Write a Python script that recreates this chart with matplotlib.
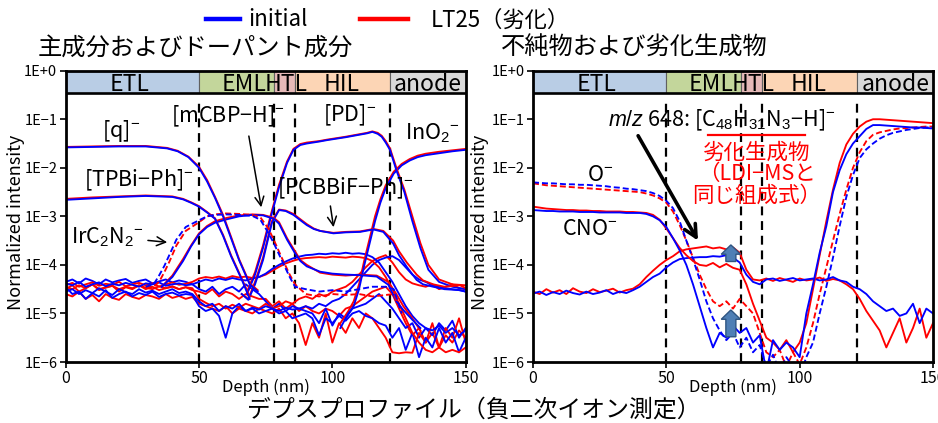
import numpy as np
import matplotlib
matplotlib.use('Agg')
import matplotlib.pyplot as plt
from matplotlib.patches import Rectangle, FancyArrow
from matplotlib.lines import Line2D

plt.rcParams['font.family'] = ['Noto Sans CJK JP', 'DejaVu Sans']
plt.rcParams['mathtext.fontset'] = 'custom'
plt.rcParams['mathtext.rm'] = 'Liberation Sans'
plt.rcParams['mathtext.it'] = 'Liberation Sans:italic'
plt.rcParams['axes.unicode_minus'] = True

# ---------------- data (log10 of normalized intensity) ----------------
layer_names = ['ETL', 'EML', 'HTL', 'HIL', 'anode']
layer_edges = [0, 50, 78, 86, 121.5, 150]
layer_colors = ['#b9cde5', '#c3d69b', '#e6b9b8', '#fcd5b5', '#d9d9d9']
layer_label_x = [24, 66.8, 82.6, 103.5, 135.8]
ytick_vals = [1e-6, 1e-5, 1e-4, 1e-3, 1e-2, 1e-1, 1e0]
ytick_labels = ['1E−6', '1E−5', '1E−4', '1E−3', '1E−2', '1E−1', '1E+0']
xtick_vals = [0, 50, 100, 150]

depth_grid = np.arange(0, 150.01, 2.5)   # 61 depths (nm)

# ---- left panel: main components & dopant ----
q_x = [0, 10, 20, 30, 38, 42, 46, 50, 53, 56, 59, 62, 65, 69, 72]
q_init = [-1.58, -1.57, -1.56, -1.56, -1.60, -1.66, -1.78, -2.00, -2.28, -2.62, -3.00, -3.45, -3.90, -4.40, -4.55]
q_lt25 = [-1.57, -1.56, -1.55, -1.55, -1.59, -1.65, -1.77, -1.98, -2.25, -2.60, -2.97, -3.42, -3.88, -4.38, -4.52]

tpbi_x = [0, 10, 20, 30, 40, 44, 47, 50, 53, 56, 59, 62, 66, 69]
tpbi_init = [-2.66, -2.63, -2.60, -2.58, -2.60, -2.65, -2.72, -2.80, -2.92, -3.05, -3.40, -3.82, -4.30, -4.70]
tpbi_lt25 = [-2.64, -2.61, -2.59, -2.57, -2.59, -2.64, -2.71, -2.79, -2.91, -3.04, -3.38, -3.80, -4.28, -4.65]

ir_x = [30, 33, 35, 37, 39, 41.5, 45, 50, 53, 56, 60, 65, 70, 73, 76, 78, 81, 84, 86, 90, 95, 100, 105, 110, 115, 120, 123, 126]
ir_init = [-4.45, -4.40, -4.22, -4.02, -3.78, -3.48, -3.22, -3.08, -3.00, -2.97, -2.96, -2.97, -2.99, -3.07, -3.34, -3.55, -3.90, -4.25, -4.45, -4.50, -4.55, -4.52, -4.55, -4.50, -4.45, -4.45, -4.50, -5.00]
ir_lt25 = [-4.45, -4.45, -4.35, -4.15, -3.92, -3.60, -3.30, -3.12, -3.00, -2.96, -2.94, -2.95, -2.97, -3.02, -3.25, -3.48, -3.85, -4.20, -4.40, -4.60, -4.65, -4.60, -4.62, -4.60, -4.65, -4.62, -4.60, -5.00]

mcbp_x = [36, 40, 44, 47, 50, 53, 56, 60.5, 65, 70, 74, 78, 80, 83, 86, 88, 90.4, 95.4, 100, 105, 110, 116.6, 121, 124, 126.6, 130, 133]
mcbp_init = [-4.45, -4.25, -3.92, -3.62, -3.37, -3.22, -3.13, -3.06, -3.00, -2.97, -2.98, -3.05, -3.15, -3.48, -3.76, -3.92, -4.03, -4.14, -4.18, -4.20, -4.21, -4.24, -4.41, -4.75, -4.93, -5.13, -5.30]
mcbp_lt25 = [-4.45, -4.22, -3.88, -3.60, -3.35, -3.20, -3.10, -3.03, -2.98, -2.96, -2.97, -3.03, -3.12, -3.45, -3.72, -3.90, -4.00, -4.16, -4.20, -4.22, -4.20, -4.22, -4.35, -4.60, -4.85, -5.10, -5.35]

pcb_x = [66, 68.5, 71, 74, 77.3, 80, 82.5, 85.4, 88, 90.4, 93, 95.4, 100.4, 105, 110.4, 115.4, 119.1, 122.8, 125, 127.9, 131.6, 134, 137.8, 142, 147.9, 150]
pcb_init = [-4.60, -4.72, -4.40, -3.90, -3.14, -2.87, -2.89, -2.97, -3.08, -3.18, -3.26, -3.30, -3.35, -3.33, -3.32, -3.27, -3.32, -3.56, -3.80, -4.04, -4.31, -4.40, -4.45, -4.50, -4.52, -4.55]
pcb_lt25 = [-4.60, -4.70, -4.35, -3.85, -3.10, -2.86, -2.88, -2.95, -3.06, -3.16, -3.25, -3.30, -3.34, -3.32, -3.31, -3.26, -3.30, -3.50, -3.72, -3.95, -4.20, -4.32, -4.40, -4.45, -4.42, -4.48]

pd_x = [68, 71, 74, 77, 80, 83, 85.4, 88, 90.4, 95, 98, 105, 110, 113, 115, 117, 118.5, 120, 121.6, 124, 127, 130, 133, 136, 140, 145, 150]
pd_init = [-4.60, -4.20, -3.65, -3.00, -2.40, -1.90, -1.63, -1.53, -1.50, -1.46, -1.43, -1.37, -1.32, -1.29, -1.26, -1.30, -1.36, -1.48, -1.63, -2.05, -2.50, -3.10, -3.65, -4.10, -4.35, -4.45, -4.50]
pd_lt25 = [-4.55, -4.15, -3.60, -2.95, -2.35, -1.87, -1.61, -1.51, -1.48, -1.45, -1.42, -1.36, -1.31, -1.28, -1.25, -1.28, -1.34, -1.45, -1.60, -2.00, -2.45, -3.00, -3.55, -4.00, -4.30, -4.40, -4.42]

ino2_x = [103, 106, 108, 110, 112, 114, 116, 118, 120, 123, 126, 129, 132, 135, 140, 145, 150]
ino2_init = [-5.30, -5.00, -4.85, -4.50, -4.00, -3.55, -3.10, -2.72, -2.42, -2.12, -1.95, -1.85, -1.78, -1.74, -1.70, -1.66, -1.63]
ino2_lt25 = [-5.20, -4.95, -4.75, -4.40, -3.90, -3.45, -3.00, -2.65, -2.36, -2.08, -1.92, -1.82, -1.75, -1.71, -1.67, -1.64, -1.61]

# other (noisy) ions, on depth_grid
ion1_init = [-4.38, -4.42, -4.35, -4.45, -4.40, -4.36, -4.44, -4.39, -4.42, -4.37, -4.41, -4.45, -4.38, -4.40, -4.36, -4.43, -4.40, -4.38, -4.42, -4.40,
             -4.35, -4.30, -4.33, -4.28, -4.31, -4.27, -4.30, -4.32, -4.28, -4.25,
             -4.18, -4.08, -4.00, -3.93, -3.87, -3.83,
             -3.80, -3.79, -3.77, -3.78, -3.76, -3.77, -3.75, -3.77, -3.76, -3.78,
             -3.84, -3.95, -4.15, -4.35, -4.60, -4.85, -5.05, -5.20, -5.30, -5.35, -5.25, -5.40, -5.30, -5.45, -5.35]
ion1_lt25 = [-4.42, -4.37, -4.45, -4.40, -4.36, -4.43, -4.39, -4.41, -4.35, -4.44, -4.40, -4.37, -4.42, -4.38, -4.45, -4.40, -4.36, -4.41, -4.39, -4.35,
             -4.28, -4.25, -4.27, -4.24, -4.28, -4.23, -4.26, -4.24, -4.27, -4.25,
             -4.20, -4.12, -4.04, -3.97, -3.92, -3.88,
             -3.86, -3.85, -3.84, -3.85, -3.83, -3.84, -3.85, -3.83, -3.84, -3.86,
             -3.92, -4.05, -4.25, -4.50, -4.80, -5.10, -5.40, -5.60, -5.75, -5.80, -5.70, -5.80, -5.75, -5.80, -5.70]
ion2_init = [-4.55, -4.50, -4.60, -4.52, -4.58, -4.48, -4.55, -4.62, -4.50, -4.56, -4.60, -4.50, -4.57, -4.53, -4.60, -4.55, -4.50, -4.58, -4.55, -4.60,
             -4.75, -4.85, -4.80, -4.95, -4.85, -4.90, -4.80, -4.95, -4.88, -4.92,
             -4.85, -4.90, -4.95, -4.88, -4.92, -4.90,
             -4.85, -4.90, -4.80, -4.85, -4.75, -4.70, -4.60, -4.45, -4.30, -4.15,
             -4.00, -3.90, -3.85, -3.82, -3.90, -4.05, -4.20, -4.30, -4.35, -4.42, -4.45, -4.48, -4.50, -4.52, -4.55]
ion2_lt25 = [-4.45, -4.50, -4.42, -4.48, -4.40, -4.50, -4.46, -4.43, -4.50, -4.45, -4.48, -4.42, -4.47, -4.50, -4.44, -4.48, -4.45, -4.50, -4.46, -4.48,
             -4.70, -4.78, -4.85, -4.80, -4.90, -4.82, -4.88, -4.80, -4.85, -4.90,
             -4.80, -4.90, -4.85, -4.75, -4.80, -4.70,
             -4.65, -4.70, -4.60, -4.65, -4.55, -4.50, -4.45, -4.35, -4.20, -4.05,
             -3.92, -3.85, -3.80, -3.95, -4.15, -4.30, -4.38, -4.42, -4.45, -4.40, -4.50, -4.45, -4.40, -4.48, -4.50]
ion3_init = [-4.45, -4.60, -4.55, -4.70, -4.58, -4.65, -4.52, -4.68, -4.60, -4.55, -4.65, -4.58, -4.62, -4.55, -4.66, -4.60, -4.57, -4.63, -4.60, -4.62,
             -4.85, -4.95, -4.90, -5.05, -5.50, -5.00, -4.85, -4.95, -4.90, -5.00,
             -4.95, -4.90, -5.00, -4.95, -5.10, -5.05,
             -5.00, -5.10, -5.45, -5.10, -5.20, -5.05, -5.15, -5.00, -4.95, -5.05,
             -5.10, -5.20, -5.25, -5.50, -5.30, -5.75, -5.40, -5.90, -5.50, -5.70, -5.30, -5.60, -5.40, -5.80, -5.50]
ion3_lt25 = [-4.60, -4.65, -4.55, -4.70, -4.62, -4.75, -4.60, -4.68, -4.72, -4.60, -4.66, -4.70, -4.62, -4.65, -4.70, -4.60, -4.68, -4.64, -4.70, -4.66,
             -4.80, -4.85, -4.90, -4.95, -4.85, -5.00, -4.90, -4.95, -5.00, -4.90,
             -4.95, -5.00, -4.90, -5.10, -5.00, -5.20,
             -5.65, -5.20, -5.50, -5.00, -5.60, -5.20, -5.40, -5.10, -5.30, -5.00,
             -5.10, -5.30, -5.50, -5.80, -5.82, -5.80, -5.81, -5.40, -5.60, -5.20, -5.70, -5.30, -5.50, -5.10, -5.60]
ion4_init = [-4.35, -4.30, -4.38, -4.28, -4.33, -4.40, -4.30, -4.36, -4.32, -4.29, -4.37, -4.33, -4.30, -4.38, -4.34, -4.30, -4.36, -4.32, -4.35, -4.40,
             -4.50, -4.55, -4.45, -4.60, -4.50, -4.45, -4.55, -4.40, -4.50, -4.60,
             -4.75, -4.90, -4.80, -4.95, -4.85, -4.90,
             -4.95, -5.00, -5.20, -4.90, -5.25, -5.00, -5.10, -4.90, -4.85, -4.80,
             -4.70, -4.60, -4.75, -4.90, -5.10, -5.30, -5.20, -5.50, -5.30, -5.45, -5.20, -5.35, -5.15, -5.50, -5.30]
ion4_lt25 = [-4.50, -4.42, -4.55, -4.48, -4.40, -4.52, -4.47, -4.43, -4.55, -4.46, -4.50, -4.42, -4.50, -4.45, -4.52, -4.48, -4.44, -4.50, -4.46, -4.52,
             -4.55, -4.60, -4.50, -4.65, -4.55, -4.60, -4.70, -4.60, -4.65, -4.70,
             -4.70, -4.85, -4.75, -4.90, -4.80, -4.95,
             -4.85, -4.95, -5.00, -4.90, -4.95, -5.05, -4.90, -4.85, -4.75, -4.65,
             -4.55, -4.50, -4.45, -4.60, -4.90, -5.20, -5.45, -5.30, -5.60, -5.40, -5.70, -5.45, -5.60, -5.35, -5.50]

# ---- right panel: impurities & degradation products (depth_grid) ----
o_init = [-2.30, -2.31, -2.32, -2.32, -2.33, -2.34, -2.34, -2.35, -2.35, -2.36, -2.37, -2.38, -2.40, -2.41, -2.43, -2.44, -2.46, -2.48, -2.52, -2.58,
          -2.68, -2.83, -3.10, -3.50, -3.88, -4.30, -4.75, -5.10, -5.35, -5.55,
          -5.40, -5.70, -5.50, -5.80, -5.65, -6.10, -5.85, -6.20, -5.90, -6.10,
          -6.30, -5.90, -5.60, -5.00, -4.45, -3.85, -3.20, -2.60, -2.15, -1.80,
          -1.62, -1.50, -1.40, -1.33, -1.28, -1.25, -1.22, -1.20, -1.18, -1.17, -1.16]
o_lt25 = [-2.32, -2.34, -2.36, -2.37, -2.38, -2.39, -2.40, -2.41, -2.42, -2.43, -2.44, -2.45, -2.46, -2.47, -2.48, -2.49, -2.50, -2.53, -2.57, -2.63,
          -2.72, -2.90, -3.18, -3.50, -3.85, -4.20, -4.50, -4.75, -4.85, -4.75,
          -4.90, -4.70, -4.85, -5.00, -5.40, -5.80, -5.90, -5.75, -6.10, -5.80,
          -6.05, -5.70, -5.20, -4.60, -4.05, -3.50, -2.95, -2.45, -2.00, -1.68,
          -1.45, -1.32, -1.27, -1.24, -1.21, -1.19, -1.18, -1.17, -1.16, -1.15, -1.15]
cno_init = [-2.87, -2.88, -2.89, -2.89, -2.90, -2.90, -2.90, -2.91, -2.91, -2.91, -2.92, -2.92, -2.92, -2.92, -2.93, -2.93, -2.93, -2.95, -3.00, -3.08,
            -3.22, -3.45, -3.70, -4.00, -4.40, -4.85, -5.30, -5.70, -5.40, -5.50,
            -5.25, -5.40, -5.30, -5.60, -5.45, -6.20, -5.55, -5.75, -5.60, -5.70,
            -5.90, -5.00, -4.40, -3.75, -3.20, -2.50, -2.05, -1.72, -1.50, -1.35,
            -1.20, -1.12, -1.12, -1.13, -1.14, -1.15, -1.16, -1.17, -1.17, -1.18, -1.19]
cno_lt25 = [-2.80, -2.82, -2.84, -2.85, -2.86, -2.87, -2.87, -2.88, -2.88, -2.89, -2.89, -2.90, -2.90, -2.90, -2.91, -2.91, -2.92, -2.93, -2.97, -3.07,
            -3.25, -3.45, -3.65, -3.80, -3.92, -4.00, -4.02, -3.96, -4.05, -3.98,
            -4.06, -4.10, -4.40, -4.80, -5.15, -5.50, -5.60, -5.75, -5.55, -5.80,
            -5.60, -5.20, -4.50, -3.80, -3.10, -2.45, -1.90, -1.52, -1.30, -1.15,
            -1.05, -1.00, -1.00, -1.01, -1.02, -1.03, -1.04, -1.05, -1.06, -1.07, -1.08]
mz648_init = [-4.59, -4.55, -4.62, -4.56, -4.60, -4.53, -4.58, -4.61, -4.55, -4.60, -4.57, -4.52, -4.60, -4.55, -4.58, -4.52, -4.45, -4.35, -4.25, -4.18,
              -4.05, -3.95, -3.88, -3.86, -3.85, -3.84, -3.84, -3.82, -3.83, -3.80,
              -3.85, -3.95, -4.20, -4.35, -4.40, -4.30, -4.28, -4.33, -4.30, -4.27,
              -4.32, -4.30, -4.28, -4.32, -4.30, -4.25, -4.32, -4.35, -4.45, -4.50,
              -4.60, -4.75, -4.85, -4.95, -4.90, -5.05, -5.00, -4.80, -5.20, -4.90, -5.00]
mz648_lt25 = [-4.55, -4.60, -4.50, -4.57, -4.52, -4.60, -4.48, -4.55, -4.58, -4.50, -4.56, -4.53, -4.49, -4.57, -4.52, -4.49, -4.40, -4.25, -4.12, -4.00,
              -3.90, -3.82, -3.72, -3.68, -3.66, -3.64, -3.62, -3.66, -3.64, -3.68,
              -3.64, -3.75, -4.10, -4.30, -4.32, -4.28, -4.33, -4.27, -4.31, -4.35,
              -4.28, -4.32, -4.30, -4.26, -4.33, -4.29, -4.32, -4.40, -4.50, -4.70,
              -4.95, -5.15, -5.35, -5.70, -5.40, -5.10, -5.60, -5.30, -4.90, -5.50, -5.20]

# ---------------- figure ----------------
BLUE = '#0000ff'
RED = '#ff0000'
fig = plt.figure(figsize=(9.38, 4.23), dpi=100)
ax_l = fig.add_axes([65.7 / 938, 1 - 362 / 423, 400 / 938, 291.3 / 423])
ax_r = fig.add_axes([533 / 938, 1 - 362 / 423, 400 / 938, 291.3 / 423])

band_bottom = 0.352


def setup(ax):
    ax.set_yscale('log')
    ax.set_xlim(0, 150)
    ax.set_ylim(1e-6, 1)
    for i in range(len(layer_names)):
        ax.add_patch(Rectangle((layer_edges[i], band_bottom), layer_edges[i + 1] - layer_edges[i],
                               1 - band_bottom, facecolor=layer_colors[i], edgecolor='#606060',
                               lw=0.8, zorder=1))
    for name, lx in zip(layer_names, layer_label_x):
        ax.text(lx, 10 ** -0.42, name, ha='center', va='baseline', fontsize=16.5, zorder=3)
    ax.axhline(band_bottom, color='black', lw=1.9, zorder=4)
    ax.vlines(layer_edges[1:-1], 1e-6, 0.27, colors='black', linestyles=(0, (4, 2.6)), lw=1.6, zorder=2)
    ax.set_yticks(ytick_vals)
    ax.set_yticklabels(ytick_labels)
    ax.yaxis.set_minor_locator(matplotlib.ticker.NullLocator())
    ax.set_xticks(xtick_vals)
    ax.tick_params(axis='y', direction='out', length=4, width=1.2, pad=2, labelsize=10.5)
    ax.tick_params(axis='x', direction='out', length=4, width=1.2, pad=2, labelsize=11.5)
    for s in ax.spines.values():
        s.set_linewidth(2.0)
        s.set_zorder(6)
    ax.set_xlabel('Depth (nm)', fontsize=12, labelpad=-6)


def curve(ax, x, logv, color, ls='-'):
    ax.plot(x, 10 ** np.asarray(logv), color=color, lw=1.35, ls=ls, zorder=3, clip_on=True)


setup(ax_l)
setup(ax_r)

DASH = (0, (3.2, 1.6))
# left panel: red first, blue over
for x, r, b in [(depth_grid, ion4_lt25, ion4_init), (depth_grid, ion3_lt25, ion3_init),
                (depth_grid, ion2_lt25, ion2_init), (depth_grid, ion1_lt25, ion1_init),
                (ino2_x, ino2_lt25, ino2_init), (pd_x, pd_lt25, pd_init),
                (pcb_x, pcb_lt25, pcb_init), (mcbp_x, mcbp_lt25, mcbp_init),
                (tpbi_x, tpbi_lt25, tpbi_init), (q_x, q_lt25, q_init)]:
    curve(ax_l, x, r, RED)
    curve(ax_l, x, b, BLUE)
curve(ax_l, ir_x, ir_lt25, RED, DASH)
curve(ax_l, ir_x, ir_init, BLUE, DASH)

# right panel
curve(ax_r, depth_grid, o_lt25, RED, DASH)
curve(ax_r, depth_grid, o_init, BLUE, DASH)
for r, b in [(mz648_lt25, mz648_init), (cno_lt25, cno_init)]:
    curve(ax_r, depth_grid, r, RED)
    curve(ax_r, depth_grid, b, BLUE)

# ---------------- annotations ----------------
fs = 15.5
ax_l.text(20.6, 10 ** -1.25, '[q]$^{-}$', ha='center', va='center', fontsize=fs)
ax_l.text(27.5, 10 ** -2.25, '[TPBi−Ph]$^{-}$', ha='center', va='center', fontsize=fs)
ax_l.text(60.9, 10 ** -0.95, '[mCBP−H]$^{-}$', ha='center', va='center', fontsize=fs)
ax_l.text(106.6, 10 ** -0.91, '[PD]$^{-}$', ha='center', va='center', fontsize=fs)
ax_l.text(137.4, 10 ** -1.29, 'InO$_2$$^{-}$', ha='center', va='center', fontsize=fs)
ax_l.text(105, 10 ** -2.42, '[PCBBiF−Ph]$^{-}$', ha='center', va='center', fontsize=fs)
ax_l.text(15.5, 10 ** -3.42, 'IrC$_2$N$_2$$^{-}$', ha='center', va='center', fontsize=fs)
arw = dict(arrowstyle='->', color='black', lw=1.1, mutation_scale=16)
ax_l.annotate('', xy=(73.5, 10 ** -2.87), xytext=(68.5, 10 ** -1.29), arrowprops=arw)
ax_l.annotate('', xy=(100.6, 10 ** -3.28), xytext=(99.1, 10 ** -2.73), arrowprops=arw)
ax_l.annotate('', xy=(39.1, 10 ** -3.54), xytext=(29.8, 10 ** -3.49), arrowprops=arw)

ax_r.text(25.2, 10 ** -2.15, 'O$^{-}$', ha='center', va='center', fontsize=fs)
ax_r.text(21.4, 10 ** -3.26, 'CNO$^{-}$', ha='center', va='center', fontsize=fs)
ax_r.text(71, 10 ** -1.03, '$m/z$ 648: [C$_{48}$H$_{31}$N$_3$−H]$^{-}$', ha='center', va='center', fontsize=fs)
ax_r.plot([65.7, 102], [10 ** -1.33, 10 ** -1.33], color=RED, lw=1.6, zorder=5)
ax_r.text(83.8, 10 ** -1.68, '劣化生成物', ha='center', va='center', fontsize=15.5, color=RED)
ax_r.text(83.8, 10 ** -2.13, '（LDI−MSと', ha='center', va='center', fontsize=15.5, color=RED)
ax_r.text(83.8, 10 ** -2.58, '同じ組成式）', ha='center', va='center', fontsize=15.5, color=RED)
ax_r.annotate('', xy=(62.4, 10 ** -3.55), xytext=(38.9, 10 ** -1.29),
              arrowprops=dict(arrowstyle='->', color='black', lw=2.6, mutation_scale=22), zorder=6)
for base, length in [((6 - 3.93) / 6, 0.057), ((6 - 5.48) / 6, 0.092)]:
    ax_r.add_patch(FancyArrow(74.2 / 150, base, 0, length, width=0.025, head_width=0.048,
                              head_length=0.032, length_includes_head=True, transform=ax_r.transAxes,
                              facecolor='#4f7fb5', edgecolor='#2f5582', lw=1.0, zorder=7))

# y labels
fig.text(16 / 938, 1 - 222 / 423, 'Normalized intensity', rotation=90, ha='center', va='center', fontsize=13)
fig.text(480 / 938, 1 - 222 / 423, 'Normalized intensity', rotation=90, ha='center', va='center', fontsize=13)

# titles
fig.text(38 / 938, 1 - 48 / 423, '主成分およびドーパント成分', ha='left', va='center', fontsize=17.5)
fig.text(501 / 938, 1 - 48 / 423, '不純物および劣化生成物', ha='left', va='center', fontsize=17.5)
fig.text(474 / 938, 1 - 410 / 423, 'デプスプロファイル（負二次イオン測定）', ha='center', va='center', fontsize=17.2)

# legend
fig.add_artist(Line2D([206 / 938, 240 / 938], [1 - 19 / 423] * 2, color=BLUE, lw=3.2))
fig.text(248 / 938, 1 - 20 / 423, 'initial', ha='left', va='center', fontsize=16)
fig.add_artist(Line2D([360 / 938, 408 / 938], [1 - 19 / 423] * 2, color=RED, lw=3.2))
fig.text(431 / 938, 1 - 20 / 423, 'LT25（劣化）', ha='left', va='center', fontsize=16)

fig.savefig('out.png', dpi=100)
